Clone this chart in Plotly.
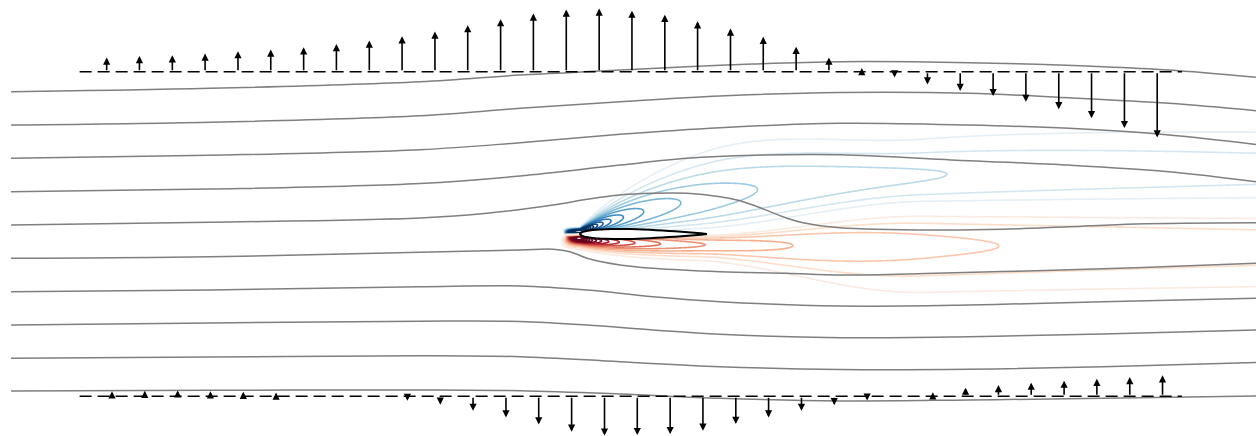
import numpy as np
import plotly.graph_objects as go
from plotly.colors import sample_colorscale

# ---------------------------------------------------------------
# Data (chord units, leading edge at the origin)
# ---------------------------------------------------------------

# Airfoil half-thickness distribution
foil_x = [0.0, 0.01, 0.03, 0.06, 0.10, 0.15, 0.20, 0.30, 0.40, 0.50,
          0.60, 0.70, 0.80, 0.90, 0.95, 1.0]
foil_t = [0.0, 0.011, 0.019, 0.026, 0.031, 0.036, 0.038, 0.040, 0.039, 0.035,
          0.030, 0.024, 0.018, 0.010, 0.006, 0.001]

# Upper probe line: station positions and vertical velocity
probe_top_y = 1.277
probe_top_x = [-3.727, -3.469, -3.210, -2.952, -2.693, -2.435, -2.176, -1.918,
               -1.659, -1.401, -1.142, -0.884, -0.625, -0.367, -0.108, 0.151,
               0.409, 0.668, 0.926, 1.185, 1.443, 1.702, 1.960, 2.219, 2.477,
               2.736, 2.994, 3.253, 3.511, 3.770, 4.028, 4.287, 4.545]
probe_top_v = [0.113, 0.124, 0.131, 0.145, 0.163, 0.176, 0.194, 0.220,
               0.247, 0.281, 0.318, 0.368, 0.415, 0.460, 0.491, 0.499,
               0.482, 0.449, 0.399, 0.342, 0.276, 0.197, 0.113, 0.031,
               -0.044, -0.099, -0.150, -0.191, -0.236, -0.294, -0.365,
               -0.443, -0.517]

# Lower probe line
probe_bot_y = -1.277
probe_bot_x = [-3.685, -3.427, -3.168, -2.910, -2.651, -2.393, -2.134, -1.876,
               -1.617, -1.359, -1.100, -0.842, -0.583, -0.325, -0.066, 0.193,
               0.451, 0.710, 0.968, 1.227, 1.485, 1.744, 2.002, 2.261, 2.519,
               2.778, 3.036, 3.295, 3.553, 3.812, 4.070, 4.329, 4.587]
probe_bot_v = [0.039, 0.042, 0.045, 0.039, 0.034, 0.029, 0.016, -0.002,
               -0.013, -0.037, -0.067, -0.116, -0.168, -0.223, -0.281, -0.311,
               -0.307, -0.299, -0.272, -0.220, -0.168, -0.116, -0.071, -0.035,
               0.006, 0.031, 0.067, 0.087, 0.106, 0.122, 0.136, 0.150, 0.165]
probe_x_start, probe_x_end = -3.94, 4.74

# Streamlines
sl1_x = [-4.480, -2.913, -1.260, -0.472, 0.157, 0.843, 1.362, 2.047, 3.063, 4.118, 4.638, 5.323]
sl1_y = [1.120, 1.147, 1.199, 1.252, 1.283, 1.317, 1.339, 1.357, 1.349, 1.317, 1.291, 1.234]
sl2_x = [-4.480, -2.913, -1.260, -0.472, 0.315, 1.102, 2.047, 3.063, 3.850, 4.638, 5.323]
sl2_y = [0.858, 0.880, 0.931, 0.990, 1.042, 1.087, 1.114, 1.108, 1.073, 1.029, 0.971]
sl3_x = [-4.480, -2.913, -1.260, -0.472, 0.315, 1.102, 2.047, 3.063, 3.850, 4.638, 5.323]
sl3_y = [0.596, 0.620, 0.664, 0.719, 0.785, 0.837, 0.872, 0.858, 0.832, 0.780, 0.705]
sl4_x = [-4.480, -2.913, -1.260, -0.472, 0.315, 0.843, 1.362, 2.047, 3.063, 3.850, 4.638, 5.323]
sl4_y = [0.333, 0.354, 0.398, 0.457, 0.543, 0.596, 0.620, 0.624, 0.577, 0.543, 0.491, 0.412]
sl5_x = [-4.480, -2.913, -1.260, -0.732, -0.213, 0.055, 0.315, 0.575, 0.843, 1.102, 1.236,
         1.362, 1.496, 1.630, 1.756, 2.047, 2.803, 3.331, 3.850, 4.378, 5.323]
sl5_y = [0.071, 0.092, 0.126, 0.163, 0.228, 0.273, 0.307, 0.320, 0.320, 0.294, 0.268,
         0.228, 0.176, 0.124, 0.089, 0.050, 0.031, 0.037, 0.057, 0.079, 0.089]
sl6_x = [-4.480, -2.913, -1.260, -0.472, -0.213, -0.079, 0.055, 0.315, 0.575, 1.102,
         1.630, 2.047, 2.803, 3.591, 4.378, 5.323]
sl6_y = [-0.191, -0.179, -0.144, -0.126, -0.120, -0.139, -0.191, -0.244, -0.270, -0.297,
         -0.309, -0.323, -0.309, -0.289, -0.265, -0.231]
sl7_x = [-4.480, -2.913, -1.260, -0.472, 0.055, 0.575, 1.102, 2.047, 3.063, 4.118, 5.323]
sl7_y = [-0.454, -0.441, -0.415, -0.409, -0.441, -0.494, -0.533, -0.567, -0.559, -0.533, -0.506]
sl8_x = [-4.480, -2.913, -1.260, -0.472, 0.055, 0.575, 1.102, 2.047, 3.063, 4.118, 5.323]
sl8_y = [-0.717, -0.701, -0.687, -0.689, -0.717, -0.756, -0.790, -0.817, -0.809, -0.787, -0.756]
sl9_x = [-4.480, -2.913, -1.260, -0.472, 0.315, 1.102, 2.047, 3.063, 4.118, 5.323]
sl9_y = [-0.979, -0.969, -0.958, -0.966, -1.006, -1.045, -1.067, -1.065, -1.045, -1.013]
sl10_x = [-4.480, -2.913, -1.260, -0.472, 0.315, 1.102, 2.047, 3.063, 4.118, 5.323]
sl10_y = [-1.236, -1.231, -1.228, -1.234, -1.260, -1.294, -1.315, -1.307, -1.294, -1.276]

streamlines = [(sl1_x, sl1_y), (sl2_x, sl2_y), (sl3_x, sl3_y), (sl4_x, sl4_y),
               (sl5_x, sl5_y), (sl6_x, sl6_y), (sl7_x, sl7_y), (sl8_x, sl8_y),
               (sl9_x, sl9_y), (sl10_x, sl10_y)]

# ---------------------------------------------------------------
# Perturbation field model around the airfoil (suction side > 0)
# ---------------------------------------------------------------
decay_exp = 0.43                  # radial decay away from the leading edge
amp_up, amp_lo = 1.0, 1.04        # side amplitudes
wake_rise = 0.20                  # dividing line height far downstream
wake_x0, wake_len = 0.9, 1.8
ridge_up = (0.02, 0.50, 1.2)      # upper lobe ridge: y0, rise, length
ridge_lo = (-0.045, -0.05, 0.6)   # lower lobe ridge
inner_pow = 1.5                   # profile between dividing line and ridge
outer_up, outer_lo = 1.0, 1.15    # profile width beyond the ridge
front_x, front_pow = -0.12, 2     # upstream damping
level_step = 0.207
n_color = 11                      # level that takes the darkest colour
n_levels = 17

gx = np.concatenate([np.linspace(-0.8, -0.06, 60, endpoint=False),
                     np.linspace(-0.06, 0.6, 300, endpoint=False),
                     np.linspace(0.6, 5.45, 420)])
gy = np.concatenate([np.linspace(-1.2, -0.16, 100, endpoint=False),
                     np.linspace(-0.16, 0.22, 260, endpoint=False),
                     np.linspace(0.22, 1.7, 150)])
X, Y = np.meshgrid(gx, gy)

r = np.hypot(X + 0.01, Y) + 0.005
phi = np.arctan2(Y, X - front_x)
radial = r ** (-decay_exp) * ((1 + np.cos(phi)) / 2) ** front_pow
t = np.clip((X - wake_x0) / wake_len, 0, 1)
y_div = wake_rise * t * t * (3 - 2 * t)
xp = np.maximum(X, 0)
y_ru = ridge_up[0] + ridge_up[1] * (1 - np.exp(-xp / ridge_up[2]))
y_rl = ridge_lo[0] + ridge_lo[1] * (1 - np.exp(-xp / ridge_lo[2]))


def lobe(e, width):
    e = np.maximum(e, 0)
    inner = (e * np.exp(1 - e)) ** inner_pow
    outer = np.exp(-((e - 1) / width) ** 2)
    return np.where(e < 1, inner, outer)


field = np.where(Y >= y_div,
                 amp_up * radial * lobe((Y - y_div) / (y_ru - y_div), outer_up),
                 -amp_lo * radial * lobe((y_div - Y) / (y_div - y_rl), outer_lo))

rdbu = ['#67001f', '#b2182b', '#d6604d', '#f4a582', '#fddbc7', '#f7f7f7',
        '#d1e5f0', '#92c5de', '#4393c3', '#2166ac', '#053061']
cscale = [[i / (len(rdbu) - 1), c] for i, c in enumerate(rdbu)]


def level_scale(ks, sign):
    # colour of each level on the symmetric RdBu scale, spread over start..end
    frac = [0.5 + 0.5 * sign * min(k / n_color, 1.0) for k in ks]
    cols = sample_colorscale(cscale, frac)
    n = len(cols)
    return [[i / (n - 1), c] for i, c in enumerate(cols)]


ks_up = list(range(1, n_levels + 1))
ks_dn = list(range(n_levels, 0, -1))

fig = go.Figure()
for ks, sign in ((ks_up, 1), (ks_dn, -1)):
    lv = [sign * k * level_step for k in ks]
    fig.add_trace(go.Contour(
        x=gx, y=gy, z=field,
        autocontour=False,
        contours=dict(start=lv[0], end=lv[-1] + 1e-9, size=level_step, coloring='lines'),
        colorscale=level_scale(ks, sign),
        line=dict(width=1.6), showscale=False, hoverinfo='skip'))

for sx, sy in streamlines:
    fig.add_trace(go.Scatter(x=sx, y=sy, mode='lines',
                             line=dict(color='#7f7f7f', width=1.5, shape='spline', smoothing=1.0),
                             hoverinfo='skip'))

# Airfoil outline
fx = np.array(foil_x)
ft = np.array(foil_t)
ax_ = np.concatenate([fx[::-1], fx[1:]])
ay_ = np.concatenate([ft[::-1], -ft[1:]])
fig.add_trace(go.Scatter(x=ax_, y=ay_, mode='lines', fill='toself', fillcolor='white',
                         line=dict(color='black', width=2, shape='spline', smoothing=0.6),
                         hoverinfo='skip'))

# Probe lines
for yl in (probe_top_y, probe_bot_y):
    fig.add_trace(go.Scatter(x=[probe_x_start, probe_x_end], y=[yl, yl], mode='lines',
                             line=dict(color='black', width=1.5, dash='12px,6px'),
                             hoverinfo='skip'))

# Velocity arrows
for xs, ys, vs in [(probe_top_x, probe_top_y, probe_top_v), (probe_bot_x, probe_bot_y, probe_bot_v)]:
    for x0, v in zip(xs, vs):
        fig.add_annotation(x=x0, y=ys + v, ax=x0, ay=ys, xref='x', yref='y', axref='x', ayref='y',
                           text='', showarrow=True, arrowhead=2, arrowsize=0.9, arrowwidth=1.6,
                           arrowcolor='black', standoff=0, startstandoff=0)

fig.update_layout(
    width=1256, height=436, margin=dict(l=0, r=0, t=0, b=0),
    paper_bgcolor='white', plot_bgcolor='white', showlegend=False,
    xaxis=dict(range=[-4.567, 5.323], visible=False, showgrid=False, zeroline=False),
    yaxis=dict(range=[-1.591, 1.843], visible=False, showgrid=False, zeroline=False),
)

fig.write_html("out.html")
